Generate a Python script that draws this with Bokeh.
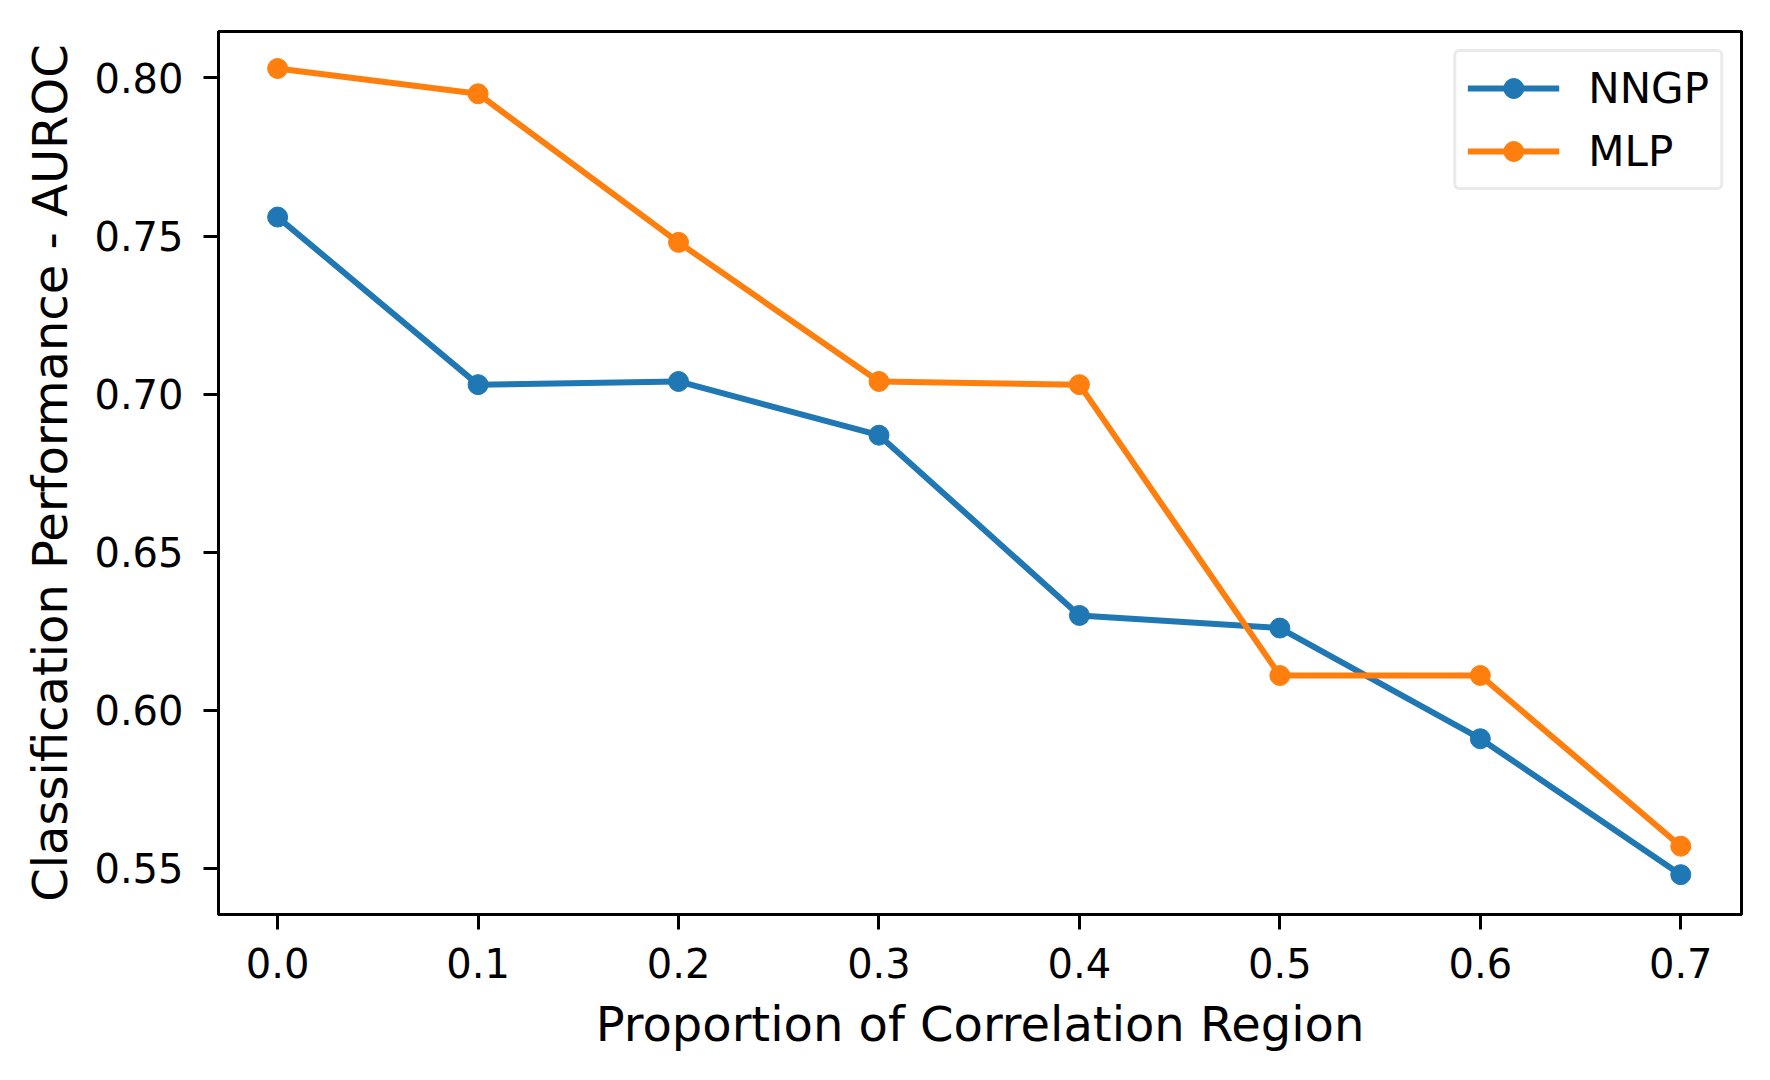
from bokeh.plotting import figure
from bokeh.models import Range1d, FixedTicker, PrintfTickFormatter
from bokeh.embed import file_html
from bokeh.resources import INLINE

# Data
proportion = [0.0, 0.1, 0.2, 0.3, 0.4, 0.5, 0.6, 0.7]
nngp_auroc = [0.756, 0.703, 0.704, 0.687, 0.630, 0.626, 0.591, 0.548]
mlp_auroc = [0.803, 0.795, 0.748, 0.704, 0.703, 0.611, 0.611, 0.557]
x_ticks = [0.0, 0.1, 0.2, 0.3, 0.4, 0.5, 0.6, 0.7]
y_ticks = [0.55, 0.60, 0.65, 0.70, 0.75, 0.80]

BLUE = "#1f77b4"
ORANGE = "#ff7f0e"
FONT = "DejaVu Sans"

p = figure(
    frame_width=1523, frame_height=883,
    min_border_left=218, min_border_right=14, min_border_top=31, min_border_bottom=150,
    x_range=Range1d(-0.0295, 0.7303), y_range=Range1d(0.5354, 0.8147),
    output_backend="svg", toolbar_location=None,
)

p.line(proportion, nngp_auroc, line_color=BLUE, line_width=6, legend_label="NNGP")
p.scatter(proportion, nngp_auroc, size=20, fill_color=BLUE, line_color=BLUE, legend_label="NNGP")
p.line(proportion, mlp_auroc, line_color=ORANGE, line_width=6, legend_label="MLP")
p.scatter(proportion, mlp_auroc, size=20, fill_color=ORANGE, line_color=ORANGE, legend_label="MLP")

p.xgrid.visible = False
p.ygrid.visible = False
p.outline_line_color = "black"
p.outline_line_width = 3
p.outline_line_alpha = 1.0

p.xaxis.ticker = FixedTicker(ticks=x_ticks)
p.yaxis.ticker = FixedTicker(ticks=y_ticks)
p.xaxis.formatter = PrintfTickFormatter(format="%.1f")
p.yaxis.formatter = PrintfTickFormatter(format="%.2f")

for ax in (p.xaxis, p.yaxis):
    ax.axis_line_width = 3
    ax.axis_line_color = "black"
    ax.major_tick_line_width = 3
    ax.major_tick_line_color = "black"
    ax.major_tick_out = 15
    ax.major_tick_in = 0
    ax.minor_tick_line_color = None
    ax.major_label_text_font = FONT
    ax.major_label_text_font_size = "40px"
    ax.major_label_text_color = "black"
    ax.axis_label_text_font = FONT
    ax.axis_label_text_font_size = "48px"
    ax.axis_label_text_font_style = "normal"
    ax.axis_label_text_color = "black"

p.xaxis.axis_label = "Proportion of Correlation Region"
p.yaxis.axis_label = "Classification Performance - AUROC"
p.xaxis.major_label_standoff = 18
p.yaxis.major_label_standoff = 20
p.xaxis.axis_label_standoff = 15
p.yaxis.axis_label_standoff = 13

lg = p.legend[0]
lg.location = "top_right"
lg.margin = 18
lg.padding = 11
lg.spacing = 13
lg.glyph_width = 92
lg.glyph_height = 50
lg.label_standoff = 29
lg.label_text_font = FONT
lg.label_text_font_size = "42px"
lg.label_text_color = "black"
lg.border_line_color = "#d6d6d6"
lg.border_line_width = 3
lg.background_fill_color = "white"
lg.background_fill_alpha = 0.8
try:
    lg.border_radius = 6
except Exception:
    pass

open("out.html", "w").write(file_html(p, INLINE))
